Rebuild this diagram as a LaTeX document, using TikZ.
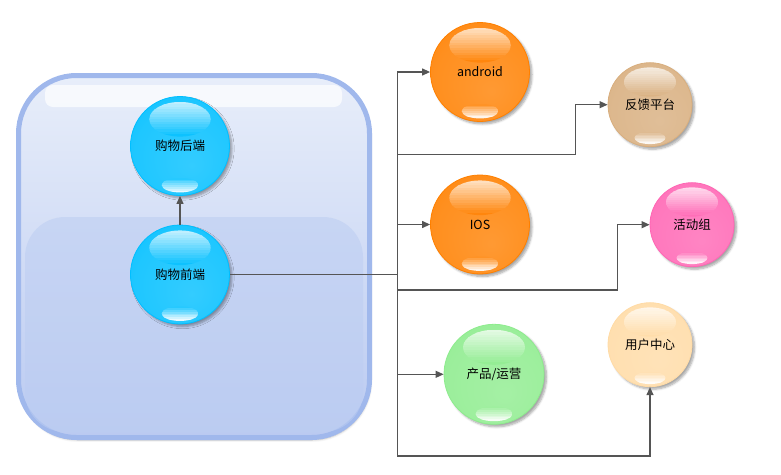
\documentclass[tikz,border=0pt]{standalone}
\usepackage{fontspec}
\setmainfont{Noto Sans CJK SC}
\usetikzlibrary{arrows.meta,shadows.blur,calc}
\definecolor{ballblue}{HTML}{00BFFF}
\definecolor{ballorange}{HTML}{FF8000}
\definecolor{balltan}{HTML}{D8AE7E}
\definecolor{ballpink}{HTML}{FF66B4}
\definecolor{ballgreen}{HTML}{8EEC8E}
\definecolor{ballpeach}{HTML}{FFDBA6}
\definecolor{lc}{HTML}{555555}
\definecolor{cborder}{HTML}{A0B8EC}
\definecolor{ctop}{HTML}{E8EEFA}
\definecolor{cbot}{HTML}{BACAF1}
\colorlet{ballc}{white}
\pgfdeclareradialshading[ballc]{glassy}{\pgfpoint{6bp}{-10bp}}{color(0bp)=(ballc!80!white); color(26bp)=(ballc!88!white); color(44bp)=(ballc); color(50bp)=(ballc)}
\newcommand\glasshl[3]{% node name, diameter, colour
  \begin{scope}
    \clip ($(#1.center)+(0,0.27*#2)$) ellipse [x radius=0.31*#2, y radius=0.175*#2];
    \foreach \i in {0,...,13}{
      \pgfmathtruncatemacro\pc{25+70*\i/13}
      \fill[#3!\pc!white] ($(#1.center)+(-0.32*#2,0.446*#2-\i*0.025*#2)$) rectangle ($(#1.center)+(0.32*#2,0.446*#2-\i*0.025*#2-0.025*#2-0.6)$);
    }
  \end{scope}
  \begin{scope}
    \clip ($(#1.center)+(0,-0.395*#2)$) ellipse [x radius=0.185*#2, y radius=0.074*#2];
    \foreach \i in {0,...,7}{
      \pgfmathtruncatemacro\pc{85-77*\i/7}
      \fill[#3!\pc!white] ($(#1.center)+(-0.19*#2,-0.32*#2-\i*0.0185*#2)$) rectangle ($(#1.center)+(0.19*#2,-0.32*#2-\i*0.0185*#2-0.0185*#2-0.6)$);
    }
  \end{scope}
}
\tikzset{
  glassball/.style 2 args={circle, minimum size=#1, inner sep=0pt,
    font=\fontsize{12.5}{14}\selectfont, text=black,
    draw=#2, line width=0.8pt,
    /utils/exec={\colorlet{ballc}{#2}}, shade, shading=glassy},
  ballshadow/.style={blur shadow={shadow xshift=2.5pt, shadow yshift=-2.5pt, shadow blur steps=6, shadow opacity=35}},
  conn/.style={draw=lc, line width=1.2pt},
  arr/.style={-{Triangle[length=8pt,width=7pt]}}
}
\begin{document}
\begin{tikzpicture}[x=1pt,y=1pt]
\useasboundingbox (0,0) rectangle (781,-474);
% container
\draw[line width=5pt, draw=cborder, top color=ctop, bottom color=cbot, rounded corners=58pt,
  blur shadow={shadow xshift=1pt, shadow yshift=-2.5pt, shadow blur steps=6, shadow opacity=25}]
  (18.5,-75.5) rectangle (369.5,-437.5);
\fill[cborder!70!white, opacity=0.55, rounded corners=40pt] (25,-217) rectangle (363,-432);
\fill[white, opacity=0.7, rounded corners=8pt] (45,-85) rectangle (342,-107);
% ball centres
\coordinate (cBack) at (180,-146);
\coordinate (cFront) at (180,-274.5);
\coordinate (cAndroid) at (480,-72);
\coordinate (cIos) at (480,-224.5);
\coordinate (cProd) at (494,-374.3);
\coordinate (cFb) at (650,-104.7);
\coordinate (cAct) at (692,-224.7);
\coordinate (cUser) at (650,-344.7);
% shadows
\path[ballshadow] (cBack) circle (49.5);
\path[ballshadow] (cFront) circle (49.5);
\path[ballshadow] (cAndroid) circle (49.5);
\path[ballshadow] (cIos) circle (49.5);
\path[ballshadow] (cProd) circle (50);
\path[ballshadow] (cFb) circle (42);
\path[ballshadow] (cAct) circle (42);
\path[ballshadow] (cUser) circle (42);
% balls
\node[glassball={99}{ballblue}] (back) at (cBack) {购物后端};
\node[glassball={99}{ballblue}] (front) at (cFront) {购物前端};
\node[glassball={99}{ballorange}] (android) at (cAndroid) {android};
\node[glassball={99}{ballorange}] (ios) at (cIos) {IOS};
\node[glassball={100}{ballgreen}] (prod) at (cProd) {产品/运营};
\node[glassball={84}{balltan}] (fb) at (cFb) {反馈平台};
\node[glassball={84}{ballpink}] (act) at (cAct) {活动组};
\node[glassball={84}{ballpeach}] (user) at (cUser) {用户中心};
% highlights
\glasshl{back}{99}{ballblue}
\glasshl{front}{99}{ballblue}
\glasshl{android}{99}{ballorange}
\glasshl{ios}{99}{ballorange}
\glasshl{prod}{100}{ballgreen}
\glasshl{fb}{84}{balltan}
\glasshl{act}{84}{ballpink}
\glasshl{user}{84}{ballpeach}
% connector points
\coordinate (tTop) at (397.3,-72);
\coordinate (tBot) at (397.3,-456);
\coordinate (k1) at (575.3,-154.3);
\coordinate (k2) at (617.3,-290);
% connectors
\draw[conn,arr] (front.north) -- (back.south);
\draw[conn] (front.east) -- (front.east -| tTop);
\draw[conn,arr] (tTop) -- (android.west);
\draw[conn,arr] (tTop) -- (tBot) -| (user.south);
\draw[conn,arr] (tTop |- ios.west) -- (ios.west);
\draw[conn,arr] (tTop |- prod.west) -- (prod.west);
\draw[conn,arr] (tTop |- k1) -- (k1) |- (fb.west);
\draw[conn,arr] (tTop |- k2) -- (k2) |- (act.west);
\end{tikzpicture}
\end{document}
